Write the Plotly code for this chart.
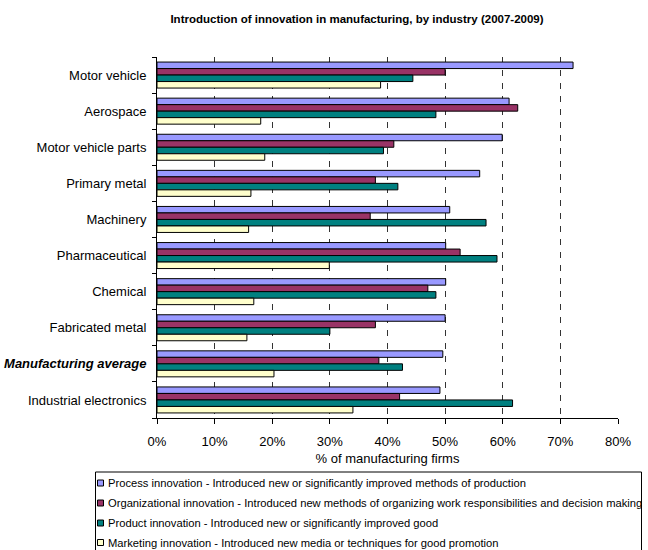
import plotly.graph_objects as go

# Industries, top to bottom
categories = [
    "Motor vehicle", "Aerospace", "Motor vehicle parts", "Primary metal",
    "Machinery", "Pharmaceutical", "Chemical", "Fabricated metal",
    "Manufacturing average", "Industrial electronics",
]
category_labels = [
    "Motor vehicle", "Aerospace", "Motor vehicle parts", "Primary metal",
    "Machinery", "Pharmaceutical", "Chemical", "Fabricated metal",
    "<b><i>Manufacturing average</i></b>", "Industrial electronics",
]

# Share of firms (%) introducing each kind of innovation
process = [72.2, 61.1, 59.9, 56.0, 50.8, 50.1, 50.1, 50.0, 49.6, 49.1]
organizational = [50.0, 62.6, 41.1, 37.9, 37.0, 52.6, 47.0, 37.9, 38.5, 42.1]
product = [44.4, 48.4, 39.3, 41.8, 57.1, 59.0, 48.4, 30.0, 42.6, 61.7]
marketing = [38.8, 18.0, 18.7, 16.3, 15.9, 29.9, 16.8, 15.6, 20.3, 34.0]

series_names = [
    "Process innovation - Introduced new or significantly improved methods of production",
    "Organizational innovation - Introduced new methods of organizing work responsibilities and decision making",
    "Product innovation - Introduced new or significantly improved good",
    "Marketing innovation - Introduced new media or techniques for good promotion",
]
series_values = [process, organizational, product, marketing]
series_colors = ["#9999FF", "#993366", "#008080", "#FFFFCC"]

x_ticks = [0, 10, 20, 30, 40, 50, 60, 70, 80]
x_tick_labels = ["0%", "10%", "20%", "30%", "40%", "50%", "60%", "70%", "80%"]

W, H = 648, 550
ML, MR, MT, MB = 157, 30, 57, 132
PW, PH = W - ML - MR, H - MT - MB
FONT = "Liberation Sans"


def px_x(px):
    return (px - ML) / PW


def px_y(py):
    return (H - MB - py) / PH


fig = go.Figure()
for name, vals, color in zip(series_names, series_values, series_colors):
    fig.add_trace(go.Bar(
        y=categories, x=vals, name=name, orientation="h",
        marker=dict(color=color, line=dict(color="#000000", width=1)),
        showlegend=False,
    ))

# Legend box drawn beneath the axis title
shapes = [dict(type="rect", xref="paper", yref="paper",
               x0=px_x(95.5), x1=px_x(641.5), y0=px_y(472), y1=px_y(560),
               line=dict(color="#000000", width=1), fillcolor="rgba(0,0,0,0)")]
annotations = []
row_y = [483, 503, 523, 542.5]
for name, color, ry in zip(series_names, series_colors, row_y):
    shapes.append(dict(type="rect", xref="paper", yref="paper",
                       x0=px_x(97.5), x1=px_x(103.5), y0=px_y(ry + 3), y1=px_y(ry - 3),
                       line=dict(color="#000000", width=1), fillcolor=color))
    annotations.append(dict(text=name, xref="paper", yref="paper",
                            x=px_x(106), y=px_y(ry), xanchor="left", yanchor="middle",
                            showarrow=False,
                            font=dict(family=FONT, size=11.2, color="#000000")))

fig.update_layout(
    width=W, height=H,
    margin=dict(l=ML, r=MR, t=MT, b=MB, pad=0),
    paper_bgcolor="white", plot_bgcolor="white",
    barmode="group", bargap=0.28, bargroupgap=0,
    font=dict(family=FONT, size=13, color="#000000"),
    title=dict(text="<b>Introduction of innovation in manufacturing, by industry (2007-2009)</b>",
               x=357 / W, xanchor="center", y=1 - 19 / H, yanchor="middle",
               font=dict(family=FONT, size=11.5, color="#000000")),
    xaxis=dict(range=[0, 80], tickmode="array", tickvals=x_ticks, ticktext=x_tick_labels,
               showline=True, linecolor="#000000", linewidth=1,
               ticks="outside", ticklen=5, tickcolor="#000000",
               showgrid=True, gridcolor="#333333", gridwidth=1, griddash="6px,7px",
               zeroline=False, ticklabelstandoff=6, automargin=False,
               title=dict(text="% of manufacturing firms", standoff=6,
                          font=dict(family=FONT, size=13))),
    yaxis=dict(categoryorder="array", categoryarray=categories,
               tickmode="array", tickvals=categories, ticktext=category_labels,
               autorange="reversed", automargin=False,
               showline=True, linecolor="#000000", linewidth=1,
               ticks="outside", ticklen=4, tickcolor="#000000", tickson="boundaries",
               showgrid=False, zeroline=False, ticklabelstandoff=7),
    shapes=shapes, annotations=annotations,
)

fig.write_html("out.html")
